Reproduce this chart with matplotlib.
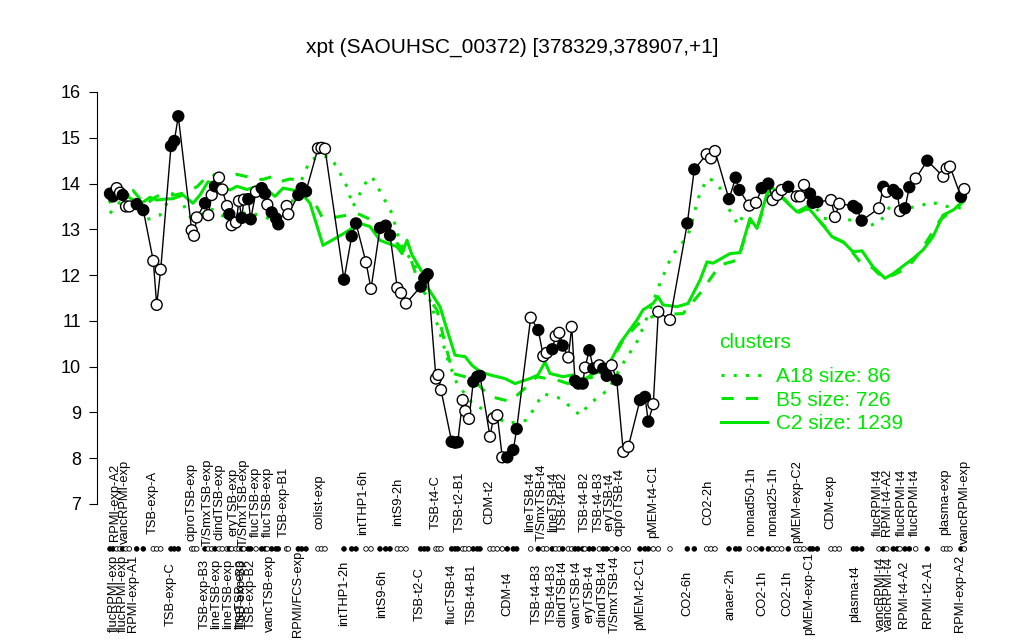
import matplotlib
matplotlib.use("Agg")
import matplotlib.pyplot as plt
from matplotlib.lines import Line2D
from matplotlib.transforms import blended_transform_factory

plt.rcParams['font.family'] = ['Liberation Sans', 'DejaVu Sans']

title = "xpt (SAOUHSC_00372) [378329,378907,+1]"

# sample positions along the x axis, expression values and filled flags
sample_pos = [110, 113, 116.7, 120, 122.7, 126, 129.3, 136.7, 143.3,
              153.3, 156.7, 160.7, 171, 174.3, 178.3, 191.7, 194, 196.7,
              205, 208.3, 211.7, 215, 219, 222.3, 227, 229.3, 231.7, 236, 239, 241.7,
              244, 248.3, 250.7, 256, 261.7, 265, 267.3, 271.7, 276, 278.3, 286.7, 288.3,
              298.3, 301.7, 306, 318, 321.5, 325, 344, 351.7, 356, 366, 371,
              380, 385.7, 390, 397.3, 401, 406, 420.7, 424.3, 427.7, 436, 438.3, 441,
              451.7, 455, 457.7, 462.7, 465.3, 469, 473.3, 477.3, 480,
              490, 493.3, 497.3, 502.3, 507.3, 513.3, 516.7,
              530.7, 538.3, 543.3, 546.7, 552.3, 555.7, 559.3, 562.7, 568.3, 571.7,
              575, 578.3, 582.7, 585, 589.3, 593.3, 599.3, 603.3, 606.7, 611.7, 616.7,
              623.3, 628.3, 640, 645, 648.3, 653.3, 658.3, 670,
              687.3, 694.3, 706.7, 711, 715, 729, 735.7, 739.3, 749.3, 756,
              761.7, 768.3, 772.7, 777.3, 781.7, 788.3, 796.7, 800, 804, 810, 812.7, 817.3,
              831, 835, 839.3, 853.3, 856.7, 861.7, 879, 883.3, 886.7, 893.3, 897.3, 900,
              905, 909.3, 915.7, 927.3, 943.3, 946.7, 950, 961, 964.3]
expr = [13.78, 13.72, 13.9, 13.8, 13.75, 13.5, 13.5, 13.55, 13.42,
        12.31, 11.35, 12.12, 14.82, 14.93, 15.47, 12.98, 12.86, 13.26,
        13.57, 13.31, 13.75, 13.94, 14.13, 13.87, 13.51, 13.33, 13.09, 13.15, 13.62, 13.25,
        13.65, 13.66, 13.22, 13.82, 13.9, 13.78, 13.54, 13.37, 13.24, 13.11, 13.51, 13.33,
        13.75, 13.9, 13.83, 14.77, 14.78, 14.76, 11.9, 12.85, 13.13, 12.28, 11.7,
        13.03, 13.08, 12.87, 11.72, 11.61, 11.38, 11.75, 11.93, 12.02, 9.74, 9.82, 9.49,
        8.36, 8.34, 8.35, 9.27, 9.03, 8.86, 9.67, 9.78, 9.80,
        8.47, 8.87, 8.94, 8.02, 8.02, 8.18, 8.64,
        11.07, 10.80, 10.23, 10.30, 10.38, 10.67, 10.74, 10.46, 10.2, 10.87,
        9.69, 9.63, 9.63, 9.98, 10.36, 9.96, 10.03, 9.96, 9.8, 10.03, 9.71,
        8.14, 8.25, 9.27, 9.34, 8.8, 9.18, 11.2, 11.02,
        13.13, 14.31, 14.64, 14.55, 14.71, 13.66, 14.13, 13.86, 13.52, 13.58,
        13.9, 14.0, 13.64, 13.75, 13.86, 13.93, 13.72, 13.72, 13.97, 13.78, 13.58, 13.6,
        13.64, 13.27, 13.56, 13.51, 13.46, 13.19, 13.46, 13.93, 13.82, 13.86, 13.78, 13.4,
        13.46, 13.92, 14.11, 14.5, 14.15, 14.33, 14.37, 13.71, 13.88]
filled = [1, 1, 0, 0, 1, 0, 0, 1, 1,
          0, 0, 0, 1, 1, 1, 0, 0, 0,
          1, 0, 0, 1, 0, 0, 0, 1, 0, 0, 0, 1,
          0, 1, 1, 0, 1, 1, 0, 1, 1, 1, 0, 0,
          1, 1, 1, 0, 0, 0, 1, 1, 1, 0, 0,
          1, 1, 1, 0, 0, 0, 1, 1, 1, 0, 0, 0,
          1, 1, 1, 0, 0, 0, 1, 1, 1,
          0, 0, 0, 0, 1, 1, 1,
          0, 1, 0, 0, 1, 0, 0, 1, 0, 0,
          1, 1, 1, 0, 1, 1, 0, 1, 1, 0, 1,
          0, 0, 1, 1, 1, 0, 0, 0,
          1, 1, 0, 0, 0, 1, 1, 1, 0, 0,
          1, 1, 0, 0, 0, 1, 0, 0, 0, 1, 1, 1,
          0, 0, 0, 1, 1, 1, 0, 1, 0, 1, 1, 0,
          1, 1, 0, 1, 0, 0, 0, 1, 0]

# cluster profiles
c2_x = [110, 125, 140, 150, 157, 165, 173, 183, 193, 200, 208, 218, 230, 237, 247, 257, 267,
        275, 283, 295, 303, 310, 323, 343, 360, 370, 380, 397, 402, 407, 412, 422, 427, 440,
        445, 455, 465, 472, 480, 490, 505, 515, 530, 538, 545, 550, 563, 573, 582, 593, 602,
        610, 620, 637, 643, 653, 658, 663, 677, 688, 700, 707, 713, 730, 740, 750, 757, 768,
        773, 783, 797, 807, 813, 823, 832, 843, 853, 862, 873, 885, 893, 902, 913, 923, 933,
        943, 953, 963]
c2_y = [13.6, 13.75, 13.55, 13.7, 13.64, 13.66, 13.67, 13.75, 13.57, 13.75, 14.04, 13.97, 13.86,
        13.94, 13.87, 13.94, 13.86, 13.72, 13.9, 13.85, 13.75, 13.57, 12.65, 12.9, 13.13, 13.06,
        12.76, 12.62, 12.47, 12.76, 12.44, 12.07, 11.75, 11.31, 10.95, 10.25, 10.22, 10.03, 9.89,
        9.82, 9.74, 9.63, 9.74, 9.82, 10.1, 9.85, 9.78, 9.82, 9.67, 9.85, 9.89, 10.1, 10.51, 11.02,
        11.24, 11.38, 11.53, 11.35, 11.31, 11.38, 11.89, 12.29, 12.26, 12.47, 12.49, 13.24, 13.02,
        13.86, 13.9, 13.67, 13.38, 13.5, 13.35, 13.09, 12.84, 12.73, 12.51, 12.53, 12.18, 11.93,
        12.03, 12.18, 12.36, 12.55, 12.84, 13.31, 13.42, 13.6]
b5_x = [110, 123, 133, 145, 155, 160, 175, 185, 197, 210, 218, 227, 237, 247, 255, 263, 272,
        280, 290, 300, 310, 322, 337, 357, 372, 383, 400, 410, 420, 437, 445, 453, 472, 490, 510,
        523, 537, 547, 557, 568, 583, 597, 612, 623, 637, 647, 657, 683, 700, 720, 738, 750, 757,
        768, 775, 785, 797, 807, 815, 825, 835, 845, 860, 873, 883, 893, 907, 920, 940, 957, 965]
b5_y = [13.64, 13.8, 13.85, 13.53, 13.7, 13.75, 13.75, 13.8, 13.93, 14.22, 14.15, 14.11, 14.2,
        14.15, 14.1, 14.09, 14.15, 14.04, 14.1, 14.07, 13.78, 13.27, 13.27, 13.35, 13.2, 13.06,
        12.62, 12.4, 11.75, 11.24, 10.51, 9.85, 9.74, 9.35, 9.24, 9.49, 9.78, 9.74, 9.71, 9.63,
        9.74, 9.78, 10.14, 10.58, 10.91, 11.05, 11.13, 11.16, 11.6, 12.22, 12.33, 13.2, 13.0,
        13.8, 13.85, 13.65, 13.35, 13.45, 13.3, 13.05, 12.8, 12.7, 12.29, 12.15, 11.93, 12.0,
        12.15, 12.5, 13.2, 13.5, 13.64]
a18_x = [110, 120, 130, 145, 160, 175, 190, 200, 210, 230, 247, 265, 277, 290, 303, 310, 320,
         330, 337, 347, 353, 367, 372, 382, 392, 400, 415, 430, 438, 448, 457, 472, 490, 507,
         527, 543, 560, 570, 580, 590, 608, 623, 638, 650, 660, 672, 680, 690, 698, 707, 713,
         720, 727, 733, 738, 745, 757, 765, 780, 793, 807, 823, 840, 853, 867, 880, 890, 903,
         920, 930, 947, 963]
a18_y = [13.35, 13.6, 13.78, 13.2, 13.31, 13.87, 13.27, 13.3, 13.46, 13.2, 13.38, 13.27, 13.16,
         13.5, 14.15, 14.51, 14.6, 14.58, 14.36, 13.93, 13.5, 14.07, 14.15, 13.75, 13.35, 12.7,
         12.2, 11.45, 10.87, 10.14, 9.63, 9.2, 8.98, 8.76, 8.83, 9.41, 9.31, 9.13, 8.94, 9.2,
         9.49, 10.07, 10.58, 11.24, 11.82, 12.44, 12.62, 12.98, 13.67, 14.11, 14.07, 13.9, 13.5,
         13.31, 13.09, 13.38, 13.53, 13.78, 13.78, 13.86, 13.78, 13.24, 13.22, 13.2, 13.06,
         13.16, 13.5, 13.46, 13.5, 13.6, 13.5, 13.46]

legend_title = "clusters"
cluster_names = ["A18 size: 86", "B5 size: 726", "C2 size: 1239"]

top_labels = ["RPMI-exp-A2", "vancRPMI-exp", "TSB-exp-A", "ciproTSB-exp", "T/SmxTSB-exp",
              "clindTSB-exp", "eryTSB-exp", "T/SmxTSB-exp", "flucTSB-exp", "flucTSB-exp",
              "TSB-exp-B1", "colist-exp", "intTHP1-6h", "intS9-2h", "TSB-t4-C", "TSB-t2-B1",
              "CDM-t2", "lineTSB-t4", "T/SmxTSB-t4", "lineTSB-t4", "TSB-t4-B2", "TSB-t4-B2",
              "TSB-t4-B3", "eryTSB-t4", "ciproTSB-t4", "pMEM-t4-C1", "CO2-2h", "nonad50-1h",
              "nonad25-1h", "pMEM-exp-C2", "CDM-exp", "flucRPMI-t4", "RPMI-t4-A2",
              "flucRPMI-t4", "flucRPMI-t4", "plasma-exp", "vancRPMI-exp"]
top_pos = [115, 125, 153, 192, 208, 220, 233, 244, 256, 268, 284, 320, 363, 398, 436, 460,
           489, 530, 542, 553, 563, 585, 599, 610, 620, 653, 708, 751, 773, 797, 830, 878,
           887, 902, 915, 945, 965]
bottom_labels = ["flucRPMI-exp", "flucRPMI-exp", "RPMI-exp-A1", "TSB-exp-C", "TSB-exp-B3",
                 "lineTSB-exp", "lineTSB-exp", "lineTSB-exp", "TSB-exp-B3", "TSB-exp-B2",
                 "vancTSB-exp", "RPMI/FCS-exp", "intTHP1-2h", "intS9-6h", "TSB-t2-C",
                 "flucTSB-t4", "TSB-t4-B1", "CDM-t4", "TSB-t4-B3", "TSB-t4-B3", "clindTSB-t4",
                 "vancTSB-t4", "eryTSB-t4", "clindTSB-t4", "T/SmxTSB-t4", "pMEM-t2-C1",
                 "CO2-6h", "anaer-2h", "CO2-1h", "CO2-1h", "pMEM-exp-C1", "plasma-t4",
                 "vancRPMI-t4", "vancRPMI-t4", "RPMI-t4-A2", "RPMI-t2-A1", "RPMI-exp-A2"]
bottom_pos = [114, 123, 133, 171, 205, 216, 228, 240, 242, 251, 270, 298, 344, 382, 420,
              452, 472, 507, 537, 552, 563, 577, 590, 603, 615, 640, 687, 730, 762, 787,
              809, 855, 881, 889, 904, 928, 960]

GREEN = '#00E600'
W, H = 1024, 640
fig = plt.figure(figsize=(W / 100, H / 100), dpi=100)
ax = fig.add_axes([97 / W, (H - 504) / H, (1000 - 97) / W, 412 / H])
ax.set_xlim(97, 1000)
ax.set_ylim(7, 16)

ax.plot(a18_x, a18_y, color=GREEN, lw=2.2, ls=(0, (1, 3)), zorder=2)
ax.plot(b5_x, b5_y, color=GREEN, lw=2.2, ls=(0, (4, 4)), zorder=2)
ax.plot(c2_x, c2_y, color=GREEN, lw=2.2, ls='-', zorder=2)

ax.plot(sample_pos, expr, color='black', lw=1.0, zorder=3)
faces = ['black' if f else 'white' for f in filled]
ax.scatter(sample_pos, expr, s=62, c=faces, edgecolors='black', linewidths=1.0, zorder=4,
           clip_on=False)

trans = blended_transform_factory(ax.transData, ax.transAxes)
ax.scatter(sample_pos, [-0.109] * len(sample_pos), s=11, c=faces, edgecolors='black',
           linewidths=0.6, transform=trans, clip_on=False, zorder=4)

for lab, p in zip(top_labels, top_pos):
    ax.text(p, 0.005, lab, rotation=90, ha='center', va='center', fontsize=9.3,
            transform=trans, clip_on=False)
for lab, p in zip(bottom_labels, bottom_pos):
    ax.text(p, -0.218, lab, rotation=90, ha='center', va='center', fontsize=9.3,
            transform=trans, clip_on=False)

for s in ['top', 'right', 'bottom']:
    ax.spines[s].set_visible(False)
ax.spines['left'].set_bounds(7, 16)
ax.set_xticks([])
ax.set_yticks(range(7, 17))
ax.tick_params(axis='y', length=5.5, width=0.8, labelsize=13, pad=6)

fig.text(0.5, 1 - 47 / H, title, ha='center', va='center', fontsize=15)

fig.text(719 / W, 1 - 342 / H, legend_title, ha='left', va='center', fontsize=15,
         color=GREEN)
handles = [Line2D([], [], color=GREEN, lw=2.2, ls=(0, (1, 3))),
           Line2D([], [], color=GREEN, lw=2.2, ls=(0, (4, 4))),
           Line2D([], [], color=GREEN, lw=2.2, ls='-')]
leg = ax.legend(handles, cluster_names, loc='upper left',
                bbox_to_anchor=(721 / W, 1 - 367 / H), bbox_transform=fig.transFigure,
                frameon=False, fontsize=15, labelcolor=GREEN,
                handlelength=2.2, handletextpad=0.45, labelspacing=0.22, borderpad=0,
                borderaxespad=0)

fig.savefig('out.png', dpi=100)
